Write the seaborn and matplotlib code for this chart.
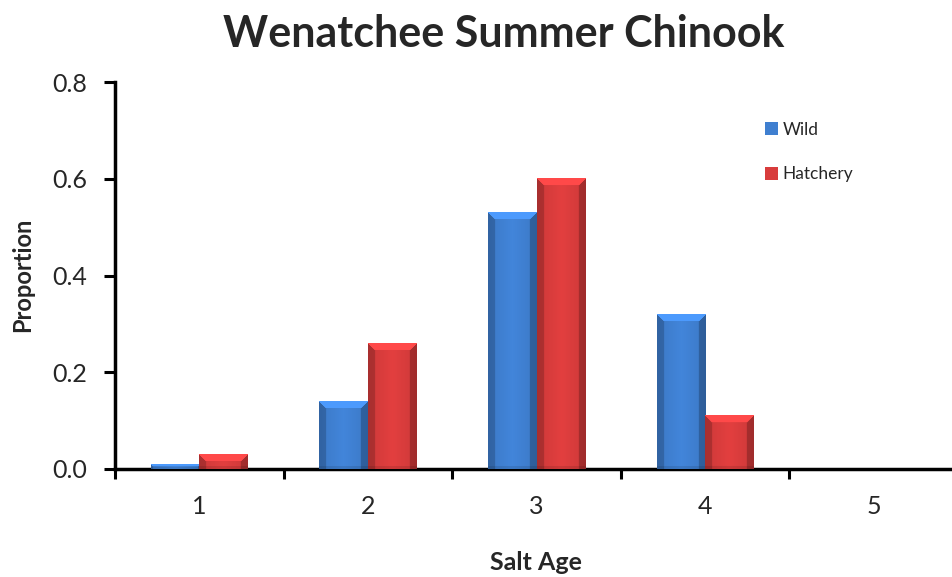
import numpy as np
import pandas as pd
import matplotlib
matplotlib.use("Agg")
import matplotlib.pyplot as plt
import seaborn as sns
from matplotlib.patches import Patch

# ---- data ----
salt_age = ["1", "2", "3", "4", "5"]
wild = [0.01, 0.14, 0.53, 0.32, 0.0]
hatchery = [0.03, 0.26, 0.60, 0.11, 0.0]
series = ["Wild", "Hatchery"]
yticks = [0.0, 0.2, 0.4, 0.6, 0.8]
title = "Wenatchee Summer Chinook"

colors = {"Wild": "#3f7fd0", "Hatchery": "#d83c3c"}

df = pd.DataFrame({
    "Salt Age": salt_age * 2,
    "Proportion": wild + hatchery,
    "Series": ["Wild"] * len(salt_age) + ["Hatchery"] * len(salt_age),
})

sns.set_style("white")
plt.rcParams["font.family"] = ["Lato", "DejaVu Sans"]

fig = plt.figure(figsize=(9.52, 5.77), dpi=100)
ax = fig.add_axes([115 / 952, 108 / 577, 843 / 952, 387 / 577])

sns.barplot(data=df, x="Salt Age", y="Proportion", hue="Series", order=salt_age,
            hue_order=series, palette=colors, width=0.575, ax=ax, legend=False,
            linewidth=0, saturation=1)

ax.set_xlim(-0.5, 4.5)
ax.set_ylim(0, 0.8)
ax.set_yticks(yticks)
ax.set_yticklabels([f"{v:.1f}" for v in yticks], fontsize=18)

# category boundary ticks, labels at centers
ax.set_xticks(np.arange(-0.5, 5.0, 1.0))
ax.set_xticklabels([])
ax.set_xticks(np.arange(len(salt_age)), minor=True)
ax.set_xticklabels(salt_age, minor=True, fontsize=18)
ax.tick_params(axis="x", which="major", bottom=True, length=7, width=2.2,
               direction="out", color="black")
ax.tick_params(axis="x", which="minor", bottom=True, length=0, pad=19)
ax.tick_params(axis="y", which="major", left=True, length=8, width=2.2,
               direction="out", color="black", pad=12)

for s in ["top", "right"]:
    ax.spines[s].set_visible(False)
for s in ["left", "bottom"]:
    ax.spines[s].set_linewidth(2.5)
    ax.spines[s].set_color("black")

ax.set_xlabel("")
ax.set_ylabel("")
fig.text(23 / 952, 1 - 275 / 577, "Proportion", rotation=90, ha="center", va="center",
         fontsize=17, fontweight="bold")
fig.text(536 / 952, 1 - 570 / 577, "Salt Age", ha="center", va="baseline",
         fontsize=18, fontweight="bold")
fig.text(504 / 952, 1 - 34 / 577, title, ha="center", va="center",
         fontsize=31, fontweight="bold")

# ---- bevel shading over the bars ----
fig.canvas.draw()
for patch in list(ax.patches):
    h = patch.get_height()
    if h <= 0:
        continue
    x0, y0 = patch.get_x(), patch.get_y()
    w = patch.get_width()
    base = np.array(matplotlib.colors.to_rgb(patch.get_facecolor()))
    p0 = ax.transData.transform((x0, y0))
    p1 = ax.transData.transform((x0 + w, y0 + h))
    wpx = max(int(round(p1[0] - p0[0])), 2)
    hpx = max(int(round(p1[1] - p0[1])), 2)
    xx = np.arange(wpx)[None, :].repeat(hpx, 0)
    yy = np.arange(hpx)[:, None].repeat(wpx, 1)  # 0 = top
    bev = min(7, hpx // 2, wpx // 4)
    fac = np.ones((hpx, wpx))
    t = (xx + 0.5) / wpx
    fac *= 1.0 + 0.10 * (1 - np.abs(2 * t - 1)) - 0.05
    left = xx < bev
    right = xx >= wpx - bev
    top = (yy < bev) & (yy <= xx) & (yy <= wpx - 1 - xx)
    fac[left] *= 0.82
    fac[right] *= 0.78
    fac[top] = 1.22
    bottom = yy >= hpx - max(2, bev // 2)
    fac[bottom & ~top] *= 0.9
    img = np.clip(base[None, None, :] * fac[..., None], 0, 1)
    ax.imshow(img, extent=(x0, x0 + w, y0, y0 + h), aspect="auto", zorder=3,
              interpolation="bilinear")
ax.set_xlim(-0.5, 4.5)
ax.set_ylim(0, 0.8)

# legend
handles = [Patch(facecolor=colors[s], edgecolor="none") for s in series]
ax.legend(handles, series, loc="upper left", bbox_to_anchor=(749 / 952, 1 - 106 / 577),
          bbox_transform=fig.transFigure, frameon=False, fontsize=12.5,
          handlelength=0.75, handleheight=0.75, handletextpad=0.3, labelspacing=1.65)

fig.savefig("out.png", dpi=100)
